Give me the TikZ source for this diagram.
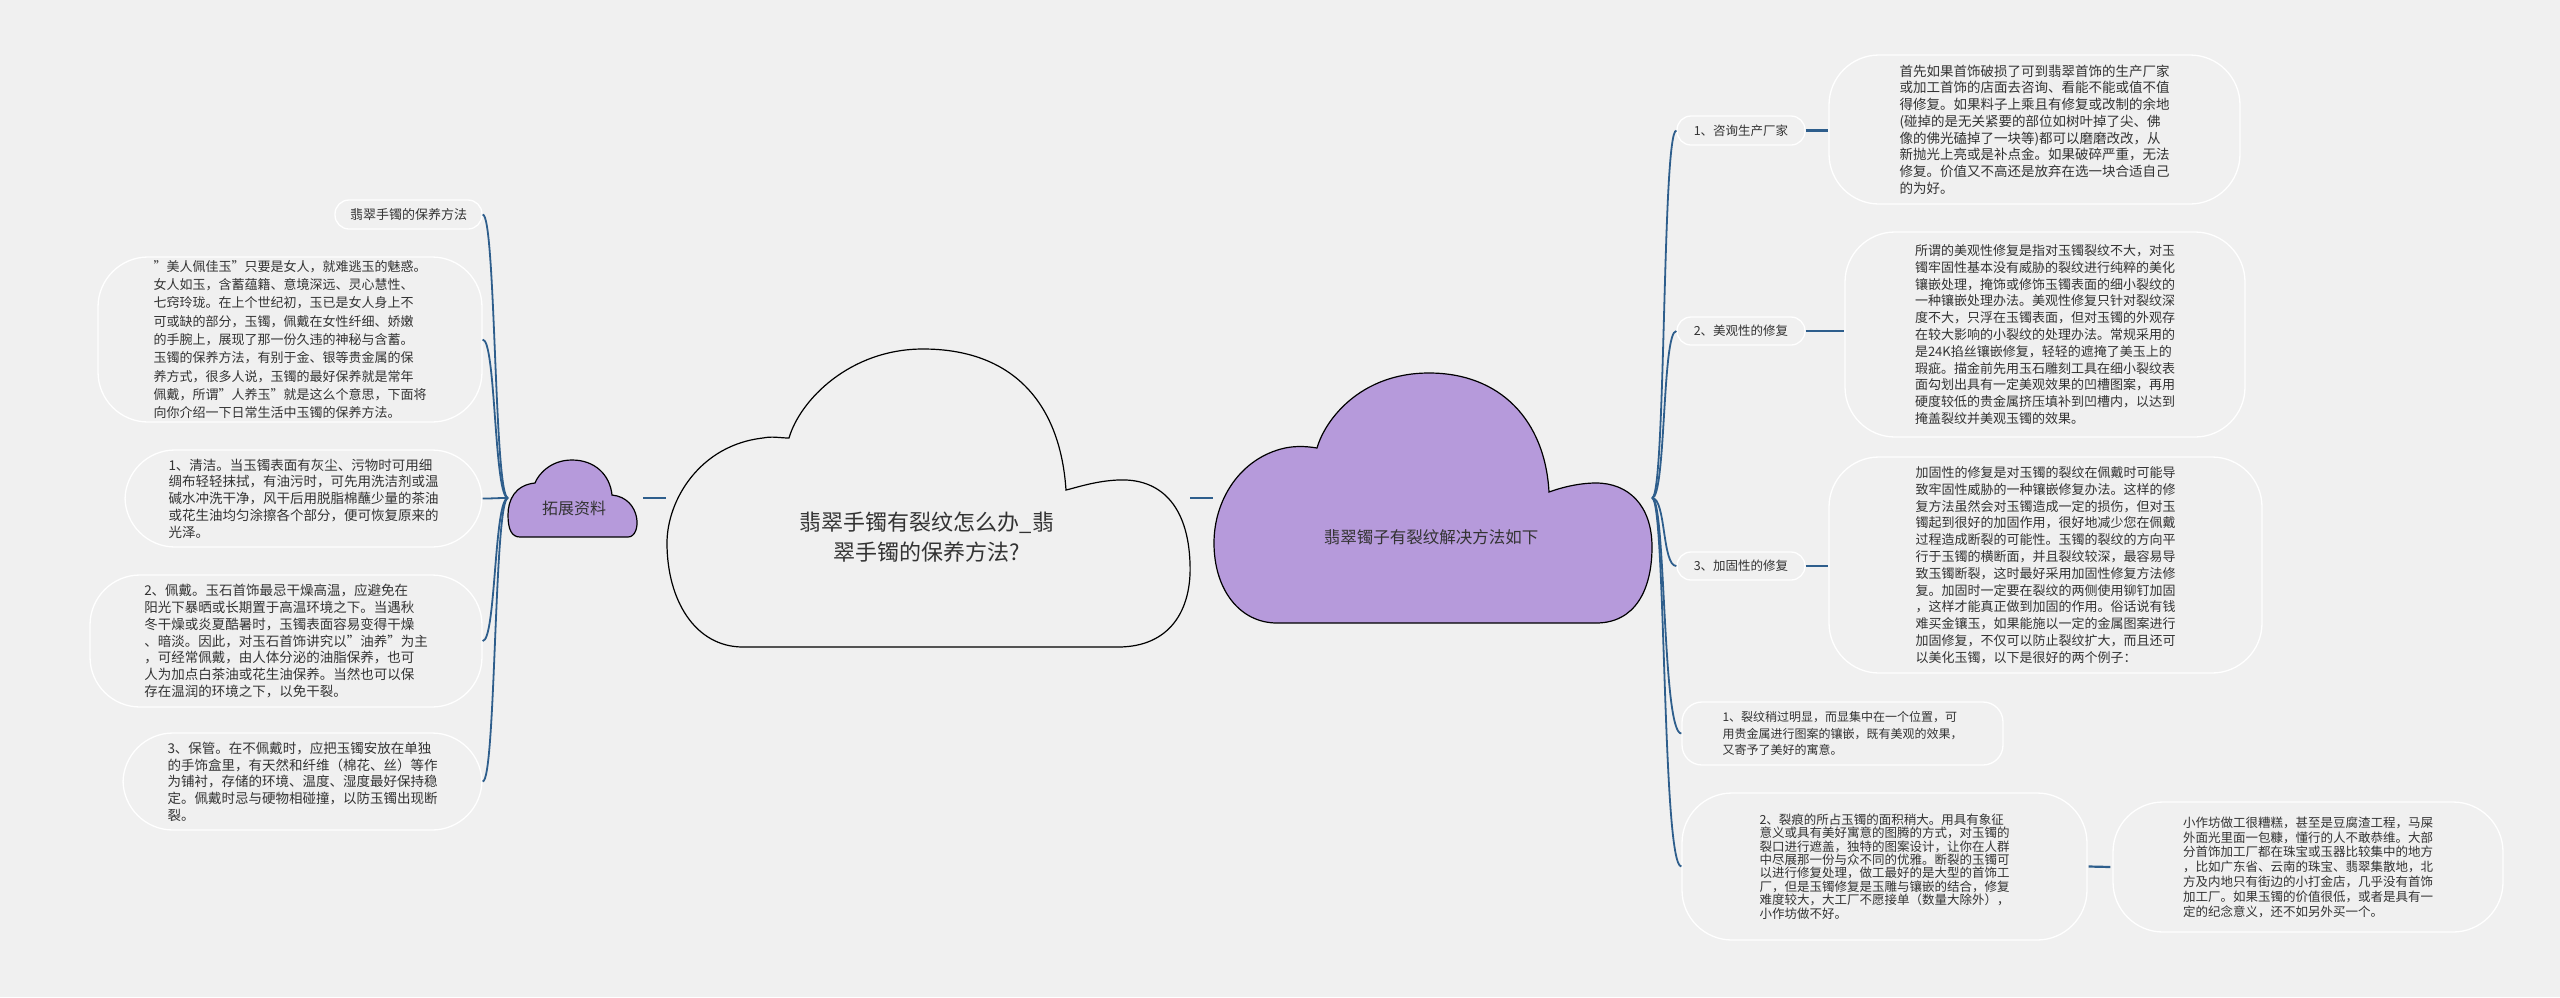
\documentclass[tikz,border=0pt]{standalone}
\usepackage{fontspec}
\setmainfont{Noto Sans CJK SC}
\begin{document}
\begin{tikzpicture}[x=1pt,y=-1pt,
  link/.style={draw=linkc,line width=2.2pt},
  bub/.style={draw=white,line width=1.3pt,rounded corners=#1,inner sep=0pt,text=txt,align=left},
  bub/.default=50pt,
  cloud/.style={draw=black,line width=1.2pt}]
\definecolor{bg}{HTML}{F0F0F0}
\definecolor{linkc}{HTML}{2E5E8C}
\definecolor{txt}{HTML}{333333}
\definecolor{purp}{HTML}{B69ADB}
\fill[bg] (0,0) rectangle (2560,997);
\useasboundingbox (0,0) rectangle (2560,997);

% clouds
\draw[cloud,fill=bg] (743,647) -- (1118,647) .. controls (1170,647) and (1192,610) .. (1190,563)
  .. controls (1188,505) and (1160,478) .. (1118,480) .. controls (1095,481) and (1075,488) .. (1066,490)
  .. controls (1060,400) and (1010,349) .. (923,349) .. controls (850,349) and (800,400) .. (789,438)
  .. controls (780,438) and (772,436) .. (763,438) .. controls (700,445) and (667,500) .. (667,543)
  .. controls (667,600) and (695,647) .. (743,647) -- cycle;
\draw[cloud,fill=purp] (1277,623) -- (1596,623) .. controls (1635,623) and (1652,590) .. (1652,547)
  .. controls (1652,505) and (1628,483) .. (1596,483) .. controls (1578,483) and (1560,488) .. (1549,492)
  .. controls (1545,420) and (1500,373) .. (1429,373) .. controls (1360,373) and (1325,420) .. (1317,448)
  .. controls (1305,446) and (1295,446) .. (1285,448) .. controls (1240,458) and (1214,500) .. (1214,543)
  .. controls (1214,590) and (1240,623) .. (1277,623) -- cycle;
\draw[cloud,fill=purp] (520,537) -- (628,537) .. controls (642,537) and (642,498) .. (612,495)
  .. controls (610,475) and (595,460) .. (572,460) .. controls (550,460) and (538,475) .. (535,483)
  .. controls (515,485) and (508,500) .. (508,515) .. controls (508,530) and (512,537) .. (520,537) -- cycle;

\node[text=txt,font=\fontsize{22}{30}\selectfont,align=center] (main) at (927,537) {翡翠手镯有裂纹怎么办\_翡\\翠手镯的保养方法?};
\node[text=txt,font=\fontsize{16.5}{20}\selectfont] (sol) at (1431,537) {翡翠镯子有裂纹解决方法如下};
\node[text=txt,font=\fontsize{16}{20}\selectfont] (ext) at (574,508) {拓展资料};

\coordinate (extL) at (508,498);
\coordinate (extR) at (643,498);
\coordinate (mainL) at (666,498);
\coordinate (mainR) at (1190,498);
\coordinate (solL) at (1213,498);
\coordinate (solR) at (1652,498);
\draw[link] (extR) -- (mainL);
\draw[link] (mainR) -- (solL);

% left nodes
\node[bub=14pt,minimum width=147pt,minimum height=29pt,font=\fontsize{13}{17}\selectfont,align=center] (l1) at (408.5,214.5) {翡翠手镯的保养方法};
\node[bub,minimum width=384pt,minimum height=165pt,font=\fontsize{13}{18.3}\selectfont] (l2) at (290,339.5) {"美人佩佳玉"只要是女人，就难逃玉的魅惑。\\女人如玉，含蓄蕴籍、意境深远、灵心慧性、\\七窍玲珑。在上个世纪初，玉已是女人身上不\\可或缺的部分，玉镯，佩戴在女性纤细、娇嫩\\的手腕上，展现了那一份久违的神秘与含蓄。\\玉镯的保养方法，有别于金、银等贵金属的保\\养方式，很多人说，玉镯的最好保养就是常年\\佩戴，所谓"人养玉"就是这么个意思，下面将\\向你介绍一下日常生活中玉镯的保养方法。};
\node[bub,minimum width=357pt,minimum height=97pt,font=\fontsize{13.5}{16.7}\selectfont] (l3) at (303.5,498.5) {1、清洁。当玉镯表面有灰尘、污物时可用细\\绸布轻轻抹拭，有油污时，可先用洗洁剂或温\\碱水冲洗干净，风干后用脱脂棉蘸少量的茶油\\或花生油均匀涂擦各个部分，便可恢复原来的\\光泽。};
\node[bub,minimum width=392pt,minimum height=132pt,font=\fontsize{13.5}{16.7}\selectfont] (l4) at (286,641) {2、佩戴。玉石首饰最忌干燥高温，应避免在\\阳光下暴晒或长期置于高温环境之下。当遇秋\\冬干燥或炎夏酷暑时，玉镯表面容易变得干燥\\、暗淡。因此，对玉石首饰讲究以"油养"为主\\，可经常佩戴，由人体分泌的油脂保养，也可\\人为加点白茶油或花生油保养。当然也可以保\\存在温润的环境之下，以免干裂。};
\node[bub,minimum width=359pt,minimum height=97pt,font=\fontsize{13.5}{16.7}\selectfont] (l5) at (302.5,781.5) {3、保管。在不佩戴时，应把玉镯安放在单独\\的手饰盒里，有天然和纤维（棉花、丝）等作\\为铺衬，存储的环境、温度、湿度最好保持稳\\定。佩戴时忌与硬物相碰撞，以防玉镯出现断\\裂。};

\foreach \n in {l1,l2,l3,l4,l5}
  \draw[link,line width=1.8pt] (extL) .. controls (494,498) and (496,498 |- \n.east) .. (\n.east);

% right nodes
\node[bub=14pt,minimum width=128pt,minimum height=29pt,font=\fontsize{12.5}{16}\selectfont,align=center] (r1) at (1741,130.5) {1、咨询生产厂家};
\node[bub=14pt,minimum width=128pt,minimum height=28pt,font=\fontsize{12.5}{16}\selectfont,align=center] (r2) at (1741,331) {2、美观性的修复};
\node[bub=14pt,minimum width=128pt,minimum height=28pt,font=\fontsize{12.5}{16}\selectfont,align=center] (r3) at (1741,566) {3、加固性的修复};
\node[bub=20pt,minimum width=321pt,minimum height=63pt,font=\fontsize{12}{16.5}\selectfont] (e1) at (1842.5,733.5) {1、裂纹稍过明显，而显集中在一个位置，可\\用贵金属进行图案的镶嵌，既有美观的效果，\\又寄予了美好的寓意。};
\node[bub,minimum width=405pt,minimum height=147pt,font=\fontsize{12.5}{13.4}\selectfont] (e2) at (1884.5,866.5) {2、裂痕的所占玉镯的面积稍大。用具有象征\\意义或具有美好寓意的图腾的方式，对玉镯的\\裂口进行遮盖，独特的图案设计，让你在人群\\中尽展那一份与众不同的优雅。断裂的玉镯可\\以进行修复处理，做工最好的是大型的首饰工\\厂，但是玉镯修复是玉雕与镶嵌的结合，修复\\难度较大，大工厂不愿接单（数量大除外），\\小作坊做不好。};
\node[bub,minimum width=390pt,minimum height=130pt,font=\fontsize{12.5}{14.8}\selectfont] (e3) at (2308,867) {小作坊做工很糟糕，甚至是豆腐渣工程，马屎\\外面光里面一包糠，懂行的人不敢恭维。大部\\分首饰加工厂都在珠宝或玉器比较集中的地方\\，比如广东省、云南的珠宝、翡翠集散地，北\\方及内地只有街边的小打金店，几乎没有首饰\\加工厂。如果玉镯的价值很低，或者是具有一\\定的纪念意义，还不如另外买一个。};
\node[bub,minimum width=411pt,minimum height=149pt,font=\fontsize{13.5}{16.7}\selectfont] (ra) at (2034.5,129.5) {首先如果首饰破损了可到翡翠首饰的生产厂家\\或加工首饰的店面去咨询、看能不能或值不值\\得修复。如果料子上乘且有修复或改制的余地\\(碰掉的是无关紧要的部位如树叶掉了尖、佛\\像的佛光磕掉了一块等)都可以磨磨改改，从\\新抛光上亮或是补点金。如果破碎严重，无法\\修复。价值又不高还是放弃在选一块合适自己\\的为好。};
\node[bub,minimum width=400pt,minimum height=205pt,font=\fontsize{13}{16.8}\selectfont] (rb) at (2045,334.5) {所谓的美观性修复是指对玉镯裂纹不大，对玉\\镯牢固性基本没有威胁的裂纹进行纯粹的美化\\镶嵌处理，掩饰或修饰玉镯表面的细小裂纹的\\一种镶嵌处理办法。美观性修复只针对裂纹深\\度不大，只浮在玉镯表面，但对玉镯的外观存\\在较大影响的小裂纹的处理办法。常规采用的\\是24K掐丝镶嵌修复，轻轻的遮掩了美玉上的\\瑕疵。描金前先用玉石雕刻工具在细小裂纹表\\面勾划出具有一定美观效果的凹槽图案，再用\\硬度较低的贵金属挤压填补到凹槽内，以达到\\掩盖裂纹并美观玉镯的效果。};
\node[bub,minimum width=433pt,minimum height=216pt,font=\fontsize{13}{16.8}\selectfont] (rc) at (2045.5,565) {加固性的修复是对玉镯的裂纹在佩戴时可能导\\致牢固性威胁的一种镶嵌修复办法。这样的修\\复方法虽然会对玉镯造成一定的损伤，但对玉\\镯起到很好的加固作用，很好地减少您在佩戴\\过程造成断裂的可能性。玉镯的裂纹的方向平\\行于玉镯的横断面，并且裂纹较深，最容易导\\致玉镯断裂，这时最好采用加固性修复方法修\\复。加固时一定要在裂纹的两侧使用铆钉加固\\，这样才能真正做到加固的作用。俗话说有钱\\难买金镶玉，如果能施以一定的金属图案进行\\加固修复，不仅可以防止裂纹扩大，而且还可\\以美化玉镯，以下是很好的两个例子：};

\foreach \n in {r1,r2,r3,e1,e2}
  \draw[link,line width=1.8pt] (solR) .. controls (1666,498) and (1662,498 |- \n.west) .. (\n.west);

\draw[link] (r1.east) -- (ra.west |- r1.east);
\draw[link] (r2.east) -- (rb.west |- r2.east);
\draw[link] (r3.east) -- (rc.west |- r3.east);
\draw[link] ([xshift=1pt]e2.east) -- ([xshift=-2pt]e3.west);
\end{tikzpicture}
\end{document}
